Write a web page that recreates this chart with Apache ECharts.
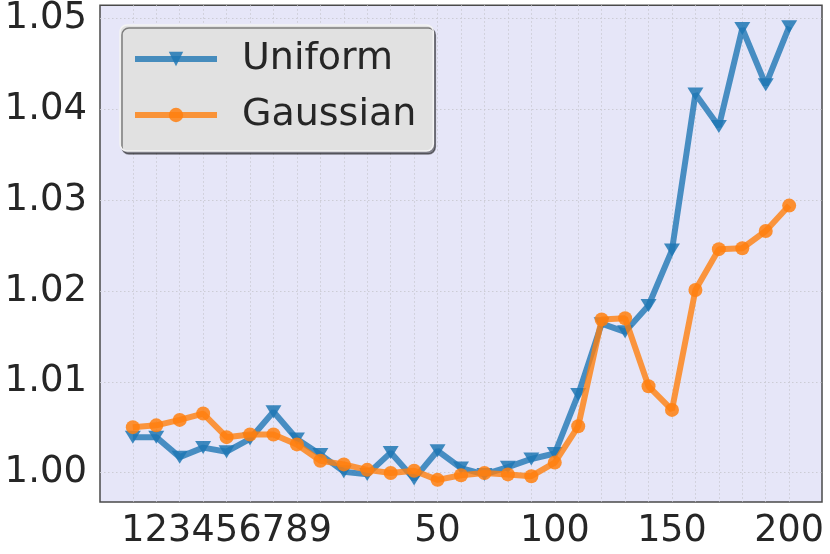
<!DOCTYPE html>
<html>
<head>
<meta charset="utf-8">
<script src="https://cdn.jsdelivr.net/npm/echarts@6/dist/echarts.min.js"></script>
<style>
html,body{margin:0;padding:0;background:#fff;}
#chart{width:830px;height:554px;}
</style>
</head>
<body>
<div id="chart"></div>
<script>
const categories = ['1','2','3','4','5','6','7','8','9','10','20','30','40','50','60','70','80','90','100','110','120','130','140','150','160','170','180','190','200'];
const xTickLabels = ['1','2','3','4','5','6','7','8','9','50','100','150','200'];
const yTickValues = [1.00, 1.01, 1.02, 1.03, 1.04, 1.05];
const uniform = [1.0039,1.0039,1.0017,1.00275,1.0023,1.0037,1.0067,1.0037,1.0020,1.0001,0.9998,1.0022,0.9993,1.0024,1.0005,0.9998,1.0006,1.0015,1.0021,1.0086,1.0164,1.0155,1.0184,1.0245,1.0417,1.0381,1.0489,1.0427,1.0491];
const gaussian = [1.0050,1.0052,1.0058,1.0065,1.0039,1.0042,1.0042,1.0031,1.0013,1.0009,1.0003,0.99996,1.0002,0.9992,0.9997,0.99996,0.9998,0.9996,1.0011,1.0051,1.01685,1.0170,1.0095,1.0069,1.0201,1.0246,1.0247,1.0266,1.0294];

const xIdx = categories.map((c, i) => i);
const labelIdx = xTickLabels.map(l => categories.indexOf(l));
const toPts = arr => arr.map((v, i) => [xIdx[i], v]);

const FONT = 'DejaVu Sans';
const TXT = '#262626';
const triDown = 'path://M0,0 L16,0 L8,13 Z';

const chart = echarts.init(document.getElementById('chart'), null, {renderer: 'canvas'});
chart.setOption({
  animation: false,
  backgroundColor: '#ffffff',
  grid: {
    left: 100, right: 8, top: 5, bottom: 52,
    show: true, backgroundColor: '#e6e6f8', borderColor: '#4a4a4a', borderWidth: 1.5
  },
  xAxis: {
    type: 'value', min: -1.4, max: 29.4,
    axisLine: {show: false},
    axisTick: {show: false, customValues: xIdx},
    axisLabel: {
      customValues: labelIdx,
      formatter: v => categories[Math.round(v)],
      fontFamily: FONT, fontSize: 36.5, color: TXT, margin: 11
    },
    splitLine: {show: true, lineStyle: {color: '#c8c8d0', type: [1.5, 2.5], width: 0.9}}
  },
  yAxis: {
    type: 'value', min: 0.99676, max: 1.05146,
    axisLine: {show: false},
    axisTick: {show: false, customValues: yTickValues},
    axisLabel: {
      customValues: yTickValues,
      formatter: v => v.toFixed(2),
      fontFamily: FONT, fontSize: 37, color: TXT, margin: 13
    },
    splitLine: {show: true, lineStyle: {color: '#c8c8d0', type: [1.5, 2.5], width: 0.9}}
  },
  legend: {
    left: 120, top: 25,
    orient: 'vertical',
    padding: [12, 17, 14, 12],
    itemGap: 12,
    itemWidth: 82, itemHeight: 18,
    backgroundColor: '#e1e1e1',
    borderColor: '#f4f4f4', borderWidth: 1.5, borderRadius: 7,
    shadowColor: 'rgba(0,0,0,0.45)', shadowBlur: 0, shadowOffsetX: 2, shadowOffsetY: 3,
    lineStyle: {width: 6},
    textStyle: {fontFamily: FONT, fontSize: 38, color: TXT, lineHeight: 44, padding: [0, 0, 0, 20]},
    data: ['Uniform', 'Gaussian']
  },
  series: [
    {
      name: 'Uniform', type: 'line', data: toPts(uniform),
      symbol: triDown, symbolSize: [16, 13],
      color: '#1f77b4',
      lineStyle: {width: 6, opacity: 0.8},
      itemStyle: {opacity: 0.85},
      z: 2
    },
    {
      name: 'Gaussian', type: 'line', data: toPts(gaussian),
      symbol: 'circle', symbolSize: 14,
      color: '#ff7f0e',
      lineStyle: {width: 6, opacity: 0.8},
      itemStyle: {opacity: 0.85},
      z: 3
    }
  ]
});
</script>
</body>
</html>
